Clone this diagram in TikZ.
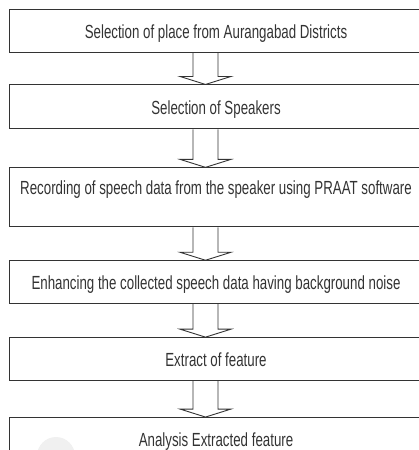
\documentclass[tikz,border=0pt]{standalone}
\usepackage{fontspec}
\setmainfont{Liberation Sans}[FakeStretch=0.7]
\usetikzlibrary{positioning,calc}
\tikzstyle{process} = [rectangle, minimum width = 414pt, minimum height = 43pt, text height = 15pt, text depth = 0pt, text centered, draw = black!80, line width = 0.9pt, font = \fontsize{19}{22}\selectfont, text = black!80]
\tikzstyle{hollow} = [draw = black!80, line width = 0.9pt, line join = miter]
\newcommand{\flowarrow}[2]{%
  \draw[hollow] let \p1 = (#1.south), \p2 = (#2.north) in
    (193pt,\y1) -- (193pt,\y2+8pt) -- (180pt,\y2+8pt) -- (205.5pt,\y2) -- (231pt,\y2+8pt) -- (218pt,\y2+8pt) -- (218pt,\y1);}

\begin{document}
\begin{tikzpicture}[x = 1pt, y = 1pt]
        	\useasboundingbox (0,0) rectangle (419,-450);
        	\clip (0,0) rectangle (419,-450);
        	\fill[gray!12] (56,-456) circle (19);
        	
        	\node[process](place) at (216,-30.5){Selection of place from Aurangabad Districts};
        	\node[process,below = 32pt of place,minimum height = 44pt](speakers){Selection of Speakers};
        	\node[process,below = 38pt of speakers,minimum height = 59pt,text depth = 20.5pt](record){Recording of speech data from the speaker using PRAAT software};
        	\node[process,below = 33pt of record](enhance){Enhancing the collected speech data having background noise};
        	\node[process,below = 33pt of enhance](extract){Extract of feature};
        	\node[process,below = 36pt of extract](analysis){Analysis Extracted feature};
        	
        	\flowarrow{place}{speakers}
        	\flowarrow{speakers}{record}
        	\flowarrow{record}{enhance}
        	\flowarrow{enhance}{extract}
        	\flowarrow{extract}{analysis}
        	
\end{tikzpicture}
\end{document}
